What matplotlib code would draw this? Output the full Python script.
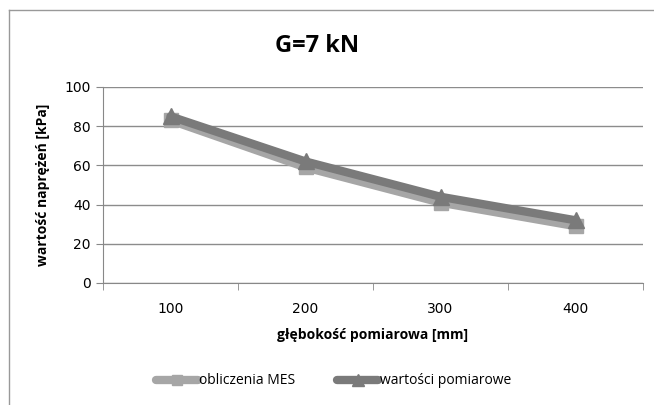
import matplotlib

matplotlib.use("Agg")
import matplotlib.pyplot as plt
from matplotlib.lines import Line2D
import numpy as np

categories = ["100", "200", "300", "400"]
mes_values = [83, 59, 41, 29]
measured_values = [85, 62, 44, 32]
series_labels = ["obliczenia MES", "wartości pomiarowe"]
yticks = [0, 20, 40, 60, 80, 100]

fig = plt.figure(figsize=(6.54, 4.05), dpi=100)
ax = fig.add_axes([103 / 654, 1 - 283 / 405, 540 / 654, 196 / 405])

x = np.arange(len(categories))
ax.plot(x, mes_values, color="#a6a6a6", lw=6, marker="s", ms=10,
        label=series_labels[0], solid_capstyle="round", zorder=3)
ax.plot(x, measured_values, color="#7a7a7a", lw=6, marker="^", ms=12,
        label=series_labels[1], solid_capstyle="round", zorder=4)

ax.set_xlim(-0.5, len(categories) - 0.5)
ax.set_ylim(0, 100)
ax.set_yticks(yticks)
ax.set_xticks(x)
ax.set_xticklabels(categories)
ax.set_xticks(np.arange(-0.5, len(categories)), minor=True)
ax.tick_params(axis="x", which="major", length=0, pad=14, labelsize=10)
ax.tick_params(axis="x", which="minor", length=5, color="#888888", direction="out")
ax.tick_params(axis="y", length=5, color="#888888", labelsize=10, pad=4)
ax.grid(axis="y", color="#8c8c8c", lw=1)
ax.set_axisbelow(True)
for side in ["top", "right"]:
    ax.spines[side].set_visible(False)
for side in ["left", "bottom"]:
    ax.spines[side].set_color("#888888")

ax.set_ylabel("wartość naprężeń [kPa]", fontsize=10, fontweight="bold",
              family="Open Sans", labelpad=10)
ax.set_xlabel("głębokość pomiarowa [mm]", fontsize=10, fontweight="bold",
              family="Open Sans", labelpad=8)

fig.text(317 / 654, 1 - 46 / 405, "G=7 kN", ha="center", va="center",
         fontsize=17, fontweight="bold", family="Open Sans")

fig.legend(loc="center", bbox_to_anchor=(0.51, 1 - 381 / 405), ncol=2,
           frameon=False, handlelength=3.0, handletextpad=0.1, markerscale=0.7,
           columnspacing=3.0, prop={"family": "Open Sans", "size": 10})

# chart frame (top and left edges visible in the crop)
fig.add_artist(Line2D([9 / 654, 9 / 654], [0, 1 - 10 / 405], color="#999999", lw=1))
fig.add_artist(Line2D([9 / 654, 1], [1 - 10 / 405, 1 - 10 / 405], color="#999999", lw=1))

fig.savefig("out.png", dpi=100)
